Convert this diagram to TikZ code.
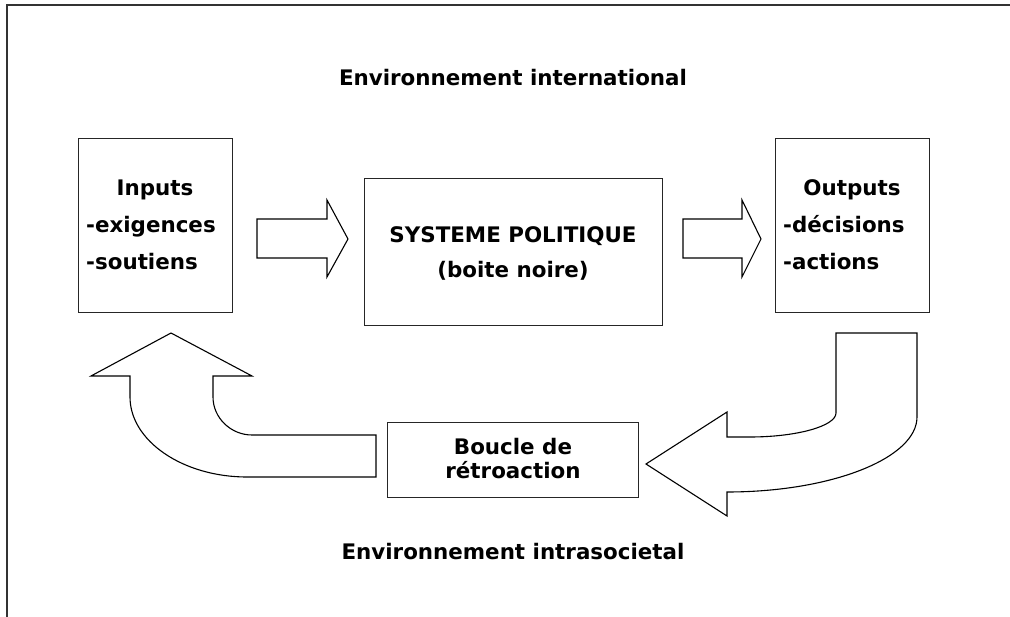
\documentclass[tikz,border=0pt]{standalone}
\usepackage{fontspec}
\setmainfont{DejaVu Sans}
\begin{document}
\begin{tikzpicture}[x=1pt,y=-1pt,
  txt/.style={font=\fontsize{21.4}{24}\selectfont\bfseries, inner sep=0pt, text=black},
  boxx/.style={draw=black!85, line width=0.9pt, inner sep=0pt},
  blockarrow/.style={draw=black, line width=1.1pt, fill=white, line join=miter}]
\useasboundingbox (0,0) rectangle (1010,617);
% frame (left and top edges)
\draw[line width=2pt, black!80] (7,617) -- (7,5) -- (1010,5);

% boxes
\node[boxx, minimum width=154pt, minimum height=174pt] (inbox) at (155,225) {};
\node[boxx, minimum width=298pt, minimum height=147pt] (sysbox) at (513,251.5) {};
\node[boxx, minimum width=154pt, minimum height=174pt] (outbox) at (852,225) {};
\node[boxx, minimum width=251pt, minimum height=75pt] (fbbox) at (512.5,459.5) {};

% titles
\node[txt, anchor=base] (envint) at (513,86) {Environnement international};
\node[txt, anchor=base] (envintra) at (513,559) {Environnement intrasocietal};

% inputs text
\node[txt, anchor=base] (tin) at (155,196) {Inputs};
\node[txt, anchor=base west] (tex) at (86,233) {-exigences};
\node[txt, anchor=base west] (tso) at (86,270) {-soutiens};

% system text
\node[txt, anchor=base] (tsys) at (513,243) {SYSTEME POLITIQUE};
\node[txt, anchor=base] (tbn) at (513,278) {(boite noire)};

% outputs text
\node[txt, anchor=base] (tout) at (852,196) {Outputs};
\node[txt, anchor=base west] (tdec) at (783,233) {-décisions};
\node[txt, anchor=base west] (tact) at (783,270) {-actions};

% feedback text
\node[txt, anchor=base] (tb1) at (513,455) {Boucle de};
\node[txt, anchor=base] (tb2) at (513,479) {rétroaction};

% straight block arrows
\draw[blockarrow] (257,219) -- (327,219) -- (327,200) -- (348,239) -- (327,277) -- (327,258) -- (257,258) -- cycle;
\draw[blockarrow] (683,219) -- (742,219) -- (742,200) -- (761,239) -- (742,277) -- (742,258) -- (683,258) -- cycle;

% right curved arrow (outputs -> feedback)
\draw[blockarrow] (836,333) -- (917,333) -- (917,417)
  .. controls (917,458) and (832,492) .. (727,492)
  -- (727,516) -- (646,464) -- (727,412) -- (727,437) -- (750,437)
  .. controls (797,437) and (836,426) .. (836,413) -- cycle;

% left curved arrow (feedback -> inputs)
\draw[blockarrow] (171,333) -- (252,376) -- (213,376) -- (213,397)
  .. controls (213,418) and (231,435) .. (252,435)
  -- (376,435) -- (376,477) -- (247,477)
  .. controls (183,477) and (130,441) .. (130,397)
  -- (130,376) -- (91,376) -- cycle;
\end{tikzpicture}
\end{document}
